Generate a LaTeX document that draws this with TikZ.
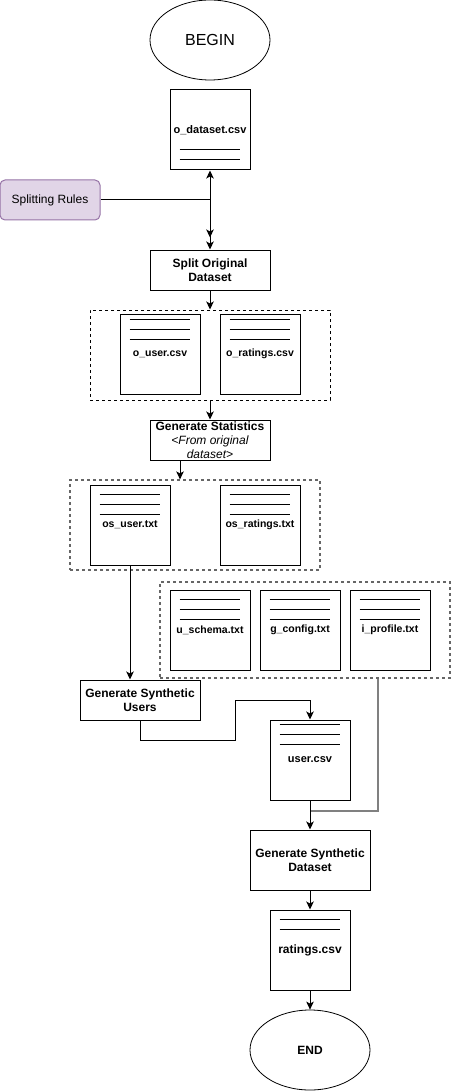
\documentclass[tikz,border=0pt]{standalone}
\usepackage{fontspec}
\setmainfont{Liberation Sans}
\usetikzlibrary{arrows.meta,calc,shapes.geometric}
\definecolor{rulesfill}{HTML}{E1D5E7}
\definecolor{rulesdraw}{HTML}{9673A6}
\definecolor{grpgray}{HTML}{666666}
\definecolor{feedgray}{HTML}{808080}

% horizontal rule lines on a document symbol: node, offset of first line, count
\newcommand\doclines[3]{%
  \foreach \k in {1,...,#3}
    \draw[docline] ($(#1.north west)+(10,{#2+10*\k-10})$) -- ++(60,0);}

\begin{document}
\begin{tikzpicture}[x=1pt,y=-1pt,
  tip/.tip={Stealth[length=8pt,width=7.5pt,inset=2pt]},
  arr/.style={line width=1pt,-tip},
  term/.style={draw,ellipse,line width=0.8pt,minimum width=120pt,minimum height=80pt,inner sep=0pt},
  box/.style={draw,line width=1pt,minimum width=120pt,minimum height=40pt,align=center,
    inner sep=0pt,font=\fontsize{12}{14}\selectfont\bfseries},
  doc/.style={draw,line width=1pt,minimum width=80pt,minimum height=80pt,inner sep=0pt,
    font=\fontsize{10.5}{12}\selectfont\bfseries},
  docline/.style={line width=0.9pt},
  grp/.style={draw,line width=1pt,dash pattern=on 3pt off 3pt},
  grpg/.style={grp,draw=grpgray,line width=1.2pt},
  rules/.style={draw=rulesdraw,fill=rulesfill,line width=1pt,rounded corners=5pt,
    minimum width=100pt,minimum height=40pt,inner sep=0pt,font=\fontsize{12}{14}\selectfont}
]
\useasboundingbox (0,0) rectangle (452,1091);

% start and original data
\node[term,font=\fontsize{16}{19}\selectfont] (begin) at (210,40) {BEGIN};
\node[doc,font=\fontsize{11}{13}\selectfont\bfseries] (odata) at (210,130) {o\_dataset.csv};
\doclines{odata}{60}{3}
\node[rules] (rules) at (50,200) {Splitting Rules};
\node[box] (split) at (210,270) {Split Original\\Dataset};

% split output
\node[grp,minimum width=240pt,minimum height=90pt] (g1) at (210,355) {};
\node[doc] (ouser) at (160,354) {o\_user.csv};
\doclines{ouser}{6}{3}
\node[doc] (orat) at (260,354) {o\_ratings.csv};
\doclines{orat}{6}{3}

% statistics
\node[box] (stats) at (210,440) {Generate Statistics\\{\mdseries\itshape <From original}\\{\mdseries\itshape dataset>}};
\node[grpg,minimum width=250pt,minimum height=90pt] (g2) at (195,525) {};
\node[doc] (osuser) at (130,525) {os\_user.txt};
\doclines{osuser}{10}{3}
\node[doc] (osrat) at (260,525) {os\_ratings.txt};
\doclines{osrat}{10}{3}

% configuration files
\node[grpg,minimum width=290pt,minimum height=96pt] (g3) at (305,630) {};
\node[doc] (uschema) at (210,630) {u\_schema.txt};
\doclines{uschema}{10}{3}
\node[doc] (gconf) at (300,630) {g\_config.txt};
\doclines{gconf}{10}{3}
\node[doc] (iprof) at (390,630) {i\_profile.txt};
\doclines{iprof}{10}{3}

% synthesis
\node[box] (gsu) at (140,700) {Generate Synthetic\\Users};
\node[doc,font=\fontsize{11}{13}\selectfont\bfseries] (usercsv) at (310,760) {user.csv};
\doclines{usercsv}{5}{3}
\node[box,minimum height=60pt] (gsd) at (310,860) {Generate Synthetic\\Dataset};
\node[doc,font=\fontsize{12}{14}\selectfont\bfseries] (ratings) at (310,950) {ratings.csv};
\doclines{ratings}{10}{2}
\node[term,font=\fontsize{12}{14}\selectfont\bfseries] (end) at (310,1050) {END};

% connectors
\draw[line width=1pt,tip-tip] (odata.south) -- (split.north);
\coordinate (jn) at (odata.south |- rules.east);
\coordinate (rtip) at ($(split.north)+(0,-12)$);
\draw[arr] (rules.east) -- (jn) -- (rtip);
\draw[arr] (split.south) -- (g1.north);
\draw[arr] (g1.south) -- (stats.north);
\coordinate (sout) at ($(stats.south)+(-30,0)$);
\draw[arr] (sout) -- (sout |- g2.north);
\draw[arr] (osuser.south) -- (osuser.south |- gsu.north);
\draw[arr] (gsu.south) -- ++(0,20) -- ++(95,0) -- ++(0,-40) -| (usercsv.north);
\coordinate (g3out) at ($(g3.south)+(73,0)$);
\coordinate (merge) at ($(usercsv.south)+(0,10)$);
\draw[draw=feedgray,line width=2pt] (g3out) |- (merge);
\draw[arr] (usercsv.south) -- (gsd.north);
\draw[arr] (gsd.south) -- (ratings.north);
\draw[arr] (ratings.south) -- (end.north);
\end{tikzpicture}
\end{document}
